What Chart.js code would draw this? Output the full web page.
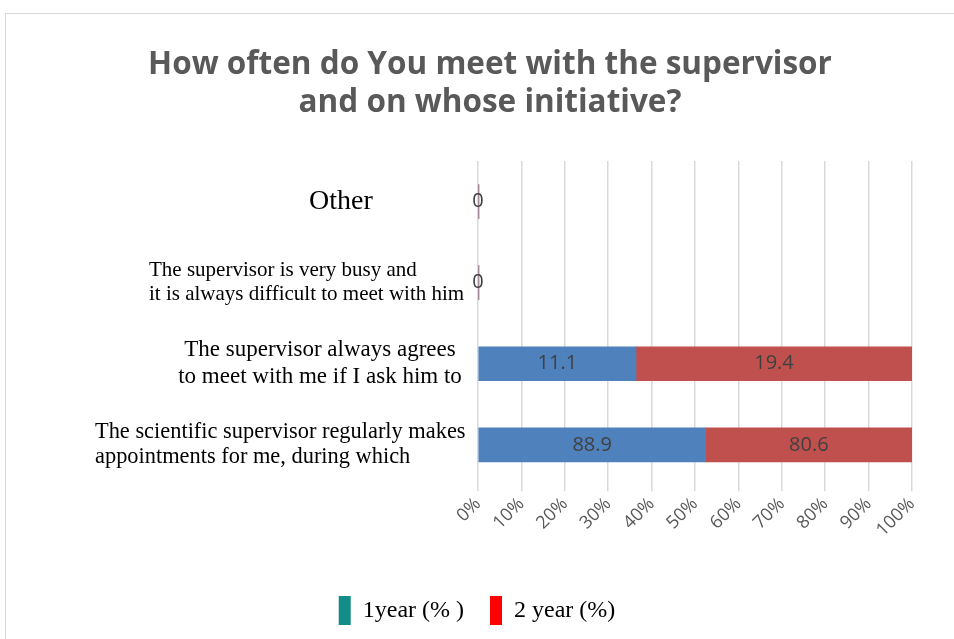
<!DOCTYPE html>
<html>
<head>
<meta charset="utf-8">
<script src="https://cdn.jsdelivr.net/npm/chart.js@4.4.1/dist/chart.umd.min.js"></script>
<style>
  html, body { margin: 0; padding: 0; background: #fff; }
  #wrap { width: 954px; height: 639px; position: relative; }
</style>
</head>
<body>
<div id="wrap"><canvas id="chart"></canvas></div>
<script>
// ---- data ----
const categories = [
  ['Other'],
  ['The supervisor is very busy and', 'it is always difficult to meet with him'],
  ['The supervisor always agrees', 'to meet with me if I ask him to'],
  ['The scientific supervisor regularly makes', 'appointments for me, during which']
];
const seriesNames = ['1year (% )', '2 year (%)'];
const year1 = [0, 0, 11.1, 88.9];
const year2 = [0, 0, 19.4, 80.6];
const xTicks = ['0%', '10%', '20%', '30%', '40%', '50%', '60%', '70%', '80%', '90%', '100%'];
const titleLines = ['How often do You meet with the supervisor', 'and on whose initiative?'];

// 100% stacked shares
const totals = year1.map((v, i) => v + year2[i]);
const share1 = year1.map((v, i) => totals[i] ? v / totals[i] * 100 : 0);
const share2 = year2.map((v, i) => totals[i] ? v / totals[i] * 100 : 0);

// label styles per category (font size, alignment, anchor x)
const catStyle = [
  { size: 28, align: 'center', x: 341, lh: 28 },
  { size: 21, align: 'left',   x: 149, lh: 24 },
  { size: 23, align: 'center', x: 320, lh: 27 },
  { size: 22.4, align: 'left', x: 95,  lh: 25 }
];

const frame = {
  id: 'frame',
  beforeDraw(chart) {
    const c = chart.ctx;
    c.save();
    c.strokeStyle = '#d9d9d9';
    c.lineWidth = 1;
    c.strokeRect(5.5, 13.5, 1000, 700);
    // title
    c.fillStyle = '#595959';
    c.font = 'bold 31.5px "Open Sans"';
    c.textAlign = 'center';
    c.textBaseline = 'middle';
    c.fillText(titleLines[0], 490, 65);
    c.fillText(titleLines[1], 490, 103);
    c.restore();
  }
};

const catLabels = {
  id: 'catLabels',
  afterDraw(chart) {
    const c = chart.ctx;
    const y = chart.scales.y;
    c.save();
    c.fillStyle = '#000';
    c.textBaseline = 'middle';
    categories.forEach((lines, i) => {
      const st = catStyle[i];
      const cy = y.getPixelForValue(i);
      c.font = st.size + 'px "Liberation Serif"';
      c.textAlign = st.align;
      const y0 = cy - (lines.length - 1) * st.lh / 2;
      lines.forEach((t, k) => c.fillText(t, st.x, y0 + k * st.lh));
    });
    c.restore();
  }
};

const valueLabels = {
  id: 'valueLabels',
  afterDatasetsDraw(chart) {
    const c = chart.ctx;
    const raw = [year1, year2];
    c.save();
    c.font = '20px "Open Sans"';
    c.fillStyle = '#404040';
    c.textAlign = 'center';
    c.textBaseline = 'middle';
    [1, 0].forEach(d => {
      chart.getDatasetMeta(d).data.forEach((bar, i) => {
        const v = raw[d][i];
        if (v === 0 && d === 0) return;
        const x = v === 0 ? chart.scales.x.getPixelForValue(0) : (bar.x + bar.base) / 2;
        c.fillText(String(v), x, bar.y);
      });
    });
    c.restore();
  }
};

new Chart(document.getElementById('chart'), {
  type: 'bar',
  data: {
    labels: categories.map(l => l.join(' ')),
    datasets: [
      { label: seriesNames[0], data: share1, backgroundColor: '#4f81bd', barThickness: 34 },
      { label: seriesNames[1], data: share2, backgroundColor: '#c0504d', barThickness: 34, minBarLength: 1 }
    ]
  },
  options: {
    indexAxis: 'y',
    responsive: true,
    maintainAspectRatio: false,
    animation: false,
    layout: { padding: { left: 0, right: 0, top: 161, bottom: 4 } },
    scales: {
      x: {
        stacked: true, min: 0, max: 100,
        grid: { color: '#d9d9d9', lineWidth: 1.5, drawTicks: true, tickLength: 6 },
        border: { display: false },
        ticks: {
          stepSize: 10,
          maxRotation: 45, minRotation: 45,
          color: '#595959',
          padding: 2,
          font: { size: 18, family: '"Open Sans"' },
          callback: (v, i) => xTicks[i]
        },
        afterFit: s => { s.height += 27; }
      },
      y: {
        stacked: true,
        grid: { display: false },
        border: { display: false },
        ticks: { display: false },
        afterFit: s => { s.width = 478; }
      },
      yRight: {
        position: 'right',
        grid: { display: false },
        border: { display: false },
        ticks: { display: false },
        afterFit: s => { s.width = 42; }
      }
    },
    plugins: {
      legend: {
        position: 'bottom',
        labels: {
          color: '#000',
          font: { size: 24, family: '"Liberation Serif"' },
          boxWidth: 12, boxHeight: 29,
          padding: 26,
          generateLabels: () => seriesNames.map((n, i) => ({
            text: n, fillStyle: i === 0 ? '#138d8a' : '#ff0000', strokeStyle: 'transparent', lineWidth: 0, datasetIndex: i
          }))
        }
      },
      tooltip: { enabled: false }
    }
  },
  plugins: [frame, catLabels, valueLabels]
});
</script>
</body>
</html>
